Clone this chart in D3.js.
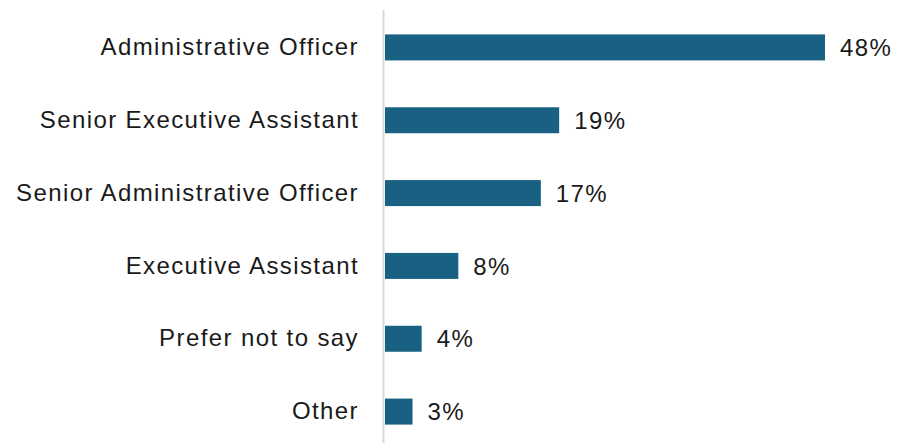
<!DOCTYPE html>
<html>
<head>
<meta charset="utf-8">
<script src="https://cdn.jsdelivr.net/npm/d3@7"></script>
<style>
  html, body { margin: 0; padding: 0; background: #ffffff; }
  svg { display: block; }
</style>
</head>
<body>
<svg id="chart" width="897" height="443"></svg>
<script>
// Job role breakdown (percent of respondents)
const categories = [
  "Administrative Officer",
  "Senior Executive Assistant",
  "Senior Administrative Officer",
  "Executive Assistant",
  "Prefer not to say",
  "Other"
];
const values = [48, 19, 17, 8, 4, 3];

const width = 897, height = 443;
const x0 = 385;
const svg = d3.select("#chart");

const x = d3.scaleLinear().domain([0, 48]).range([x0, 825]);
const y = d3.scaleBand().domain(categories).range([11, 448]).paddingInner(0.643).paddingOuter(0.3215);

const font = "'Liberation Sans', Arial, sans-serif";
const fontSize = 24;
const spacing = "1.4px";

// bars
svg.append("g").selectAll("rect")
  .data(values)
  .join("rect")
  .attr("x", x0)
  .attr("y", (d, i) => y(categories[i]))
  .attr("width", d => x(d) - x0)
  .attr("height", y.bandwidth())
  .attr("fill", "#186182");

// value labels
svg.append("g").selectAll("text")
  .data(values)
  .join("text")
  .attr("x", d => x(d) + 15)
  .attr("y", (d, i) => y(categories[i]) + y.bandwidth() / 2)
  .attr("dy", "0.36em")
  .attr("font-family", font)
  .attr("font-size", fontSize)
  .attr("letter-spacing", spacing)
  .attr("fill", "#1a1a1a")
  .text(d => d + "%");

// category axis
const axis = d3.axisLeft(y).tickSize(0).tickPadding(24.5);
const g = svg.append("g").attr("transform", `translate(${x0 - 1.5},0)`).call(axis);
g.select(".domain").remove();
g.selectAll("text")
  .attr("font-family", font)
  .attr("font-size", fontSize)
  .attr("letter-spacing", spacing)
  .attr("fill", "#1a1a1a");

svg.append("line")
  .attr("x1", x0 - 1.5).attr("x2", x0 - 1.5)
  .attr("y1", 10).attr("y2", 443)
  .attr("stroke", "#d9d9d9")
  .attr("stroke-width", 2);
</script>
</body>
</html>
